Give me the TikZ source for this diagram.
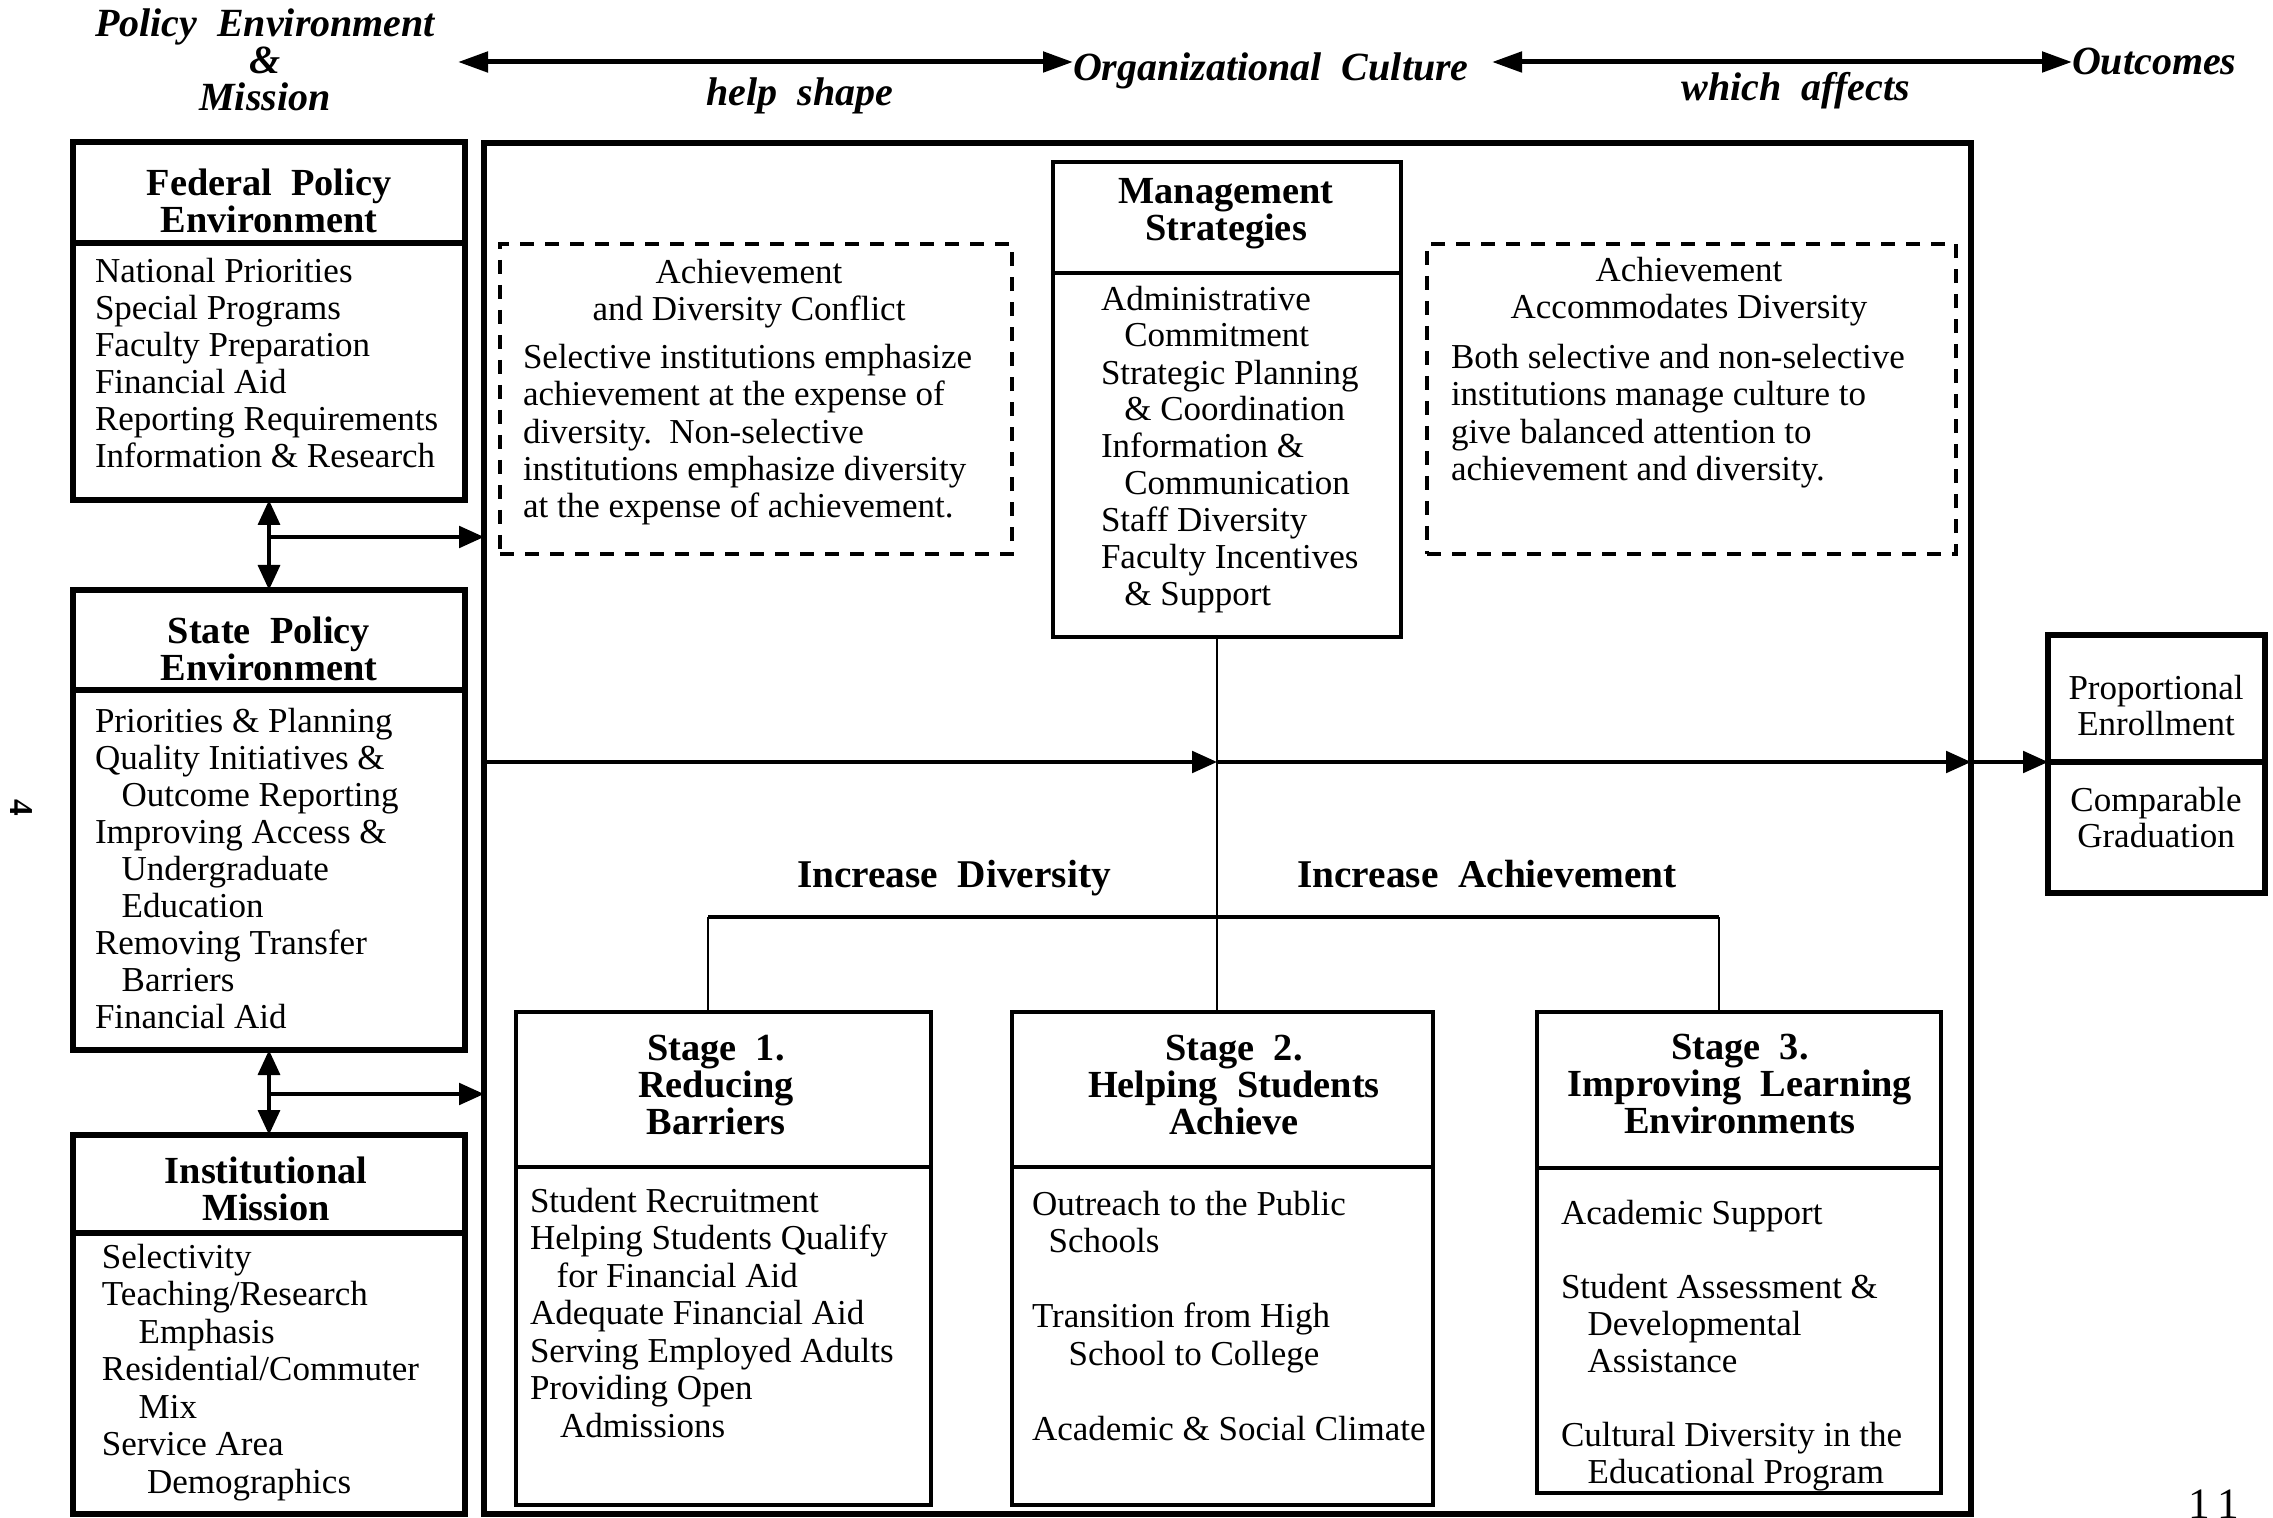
\documentclass[tikz,border=0pt]{standalone}
\usepackage{fontspec}
\setmainfont{Liberation Serif}
\usetikzlibrary{arrows.meta,fit}
\begin{document}
\begin{tikzpicture}[x=0.3pt,y=-0.3pt,
  every node/.style={inner sep=0pt, outer sep=0pt},
  heavyfr/.style={draw, line width=2pt},
  mainfr/.style={draw, line width=1.6pt},
  midfr/.style={draw, line width=1.1pt},
  dashfr/.style={draw, line width=1pt, dash pattern=on 4.2pt off 3.3pt},
  bodyt/.style={anchor=base west, align=left, font=\fontsize{10.5pt}{11.1pt}\selectfont},
  ctrt/.style={anchor=base, align=center, font=\fontsize{10.5pt}{11.1pt}\selectfont},
  hdt/.style={anchor=base, align=center, font=\fontsize{11.5pt}{11.1pt}\selectfont\bfseries},
  topt/.style={font=\fontsize{12pt}{11.2pt}\selectfont\bfseries\itshape},
  arr/.style={-{Triangle[length=7.5pt,width=6.5pt]}},
  dblarr/.style={{Triangle[length=7.5pt,width=6.5pt]}-{Triangle[length=7.5pt,width=6.5pt]}},
  toparr/.style={{Triangle[length=9pt,width=6pt]}-{Triangle[length=9pt,width=6pt]}, line width=1.5pt}
]
\useasboundingbox (0,0) rectangle (2273,1518);
\fill[white] (0,0) rectangle (2273,1518);

% (multi-line nodes are anchored at the baseline of their LAST line)

% ---- top labels ----
\node[topt, anchor=base, align=center] (pem) at (265,111) {Policy\ \ Environment\\\&\\Mission};
\node[topt, anchor=base] (hs) at (800,106) {help\ \ shape};
\node[topt, anchor=base west] (oc) at (1073,81) {Organizational\ \ Culture};
\node[topt, anchor=base] (wa) at (1796,101) {which\ \ affects};
\node[topt, anchor=base west] (oo) at (2072,75) {Outcomes};
\coordinate (ta) at (458,62);
\draw[toparr] (ta) -- (oc.west |- ta);
\draw[toparr] ([xshift=7pt]oc.east |- ta) -- (oo.west |- ta);

% ---- left column ----
\node[heavyfr, fit={(73,142)(465,243)}] (fedH) {};
\node[heavyfr, fit={(73,243)(465,500)}] (fedB) {};
\node[hdt] (fedHt) at (269,233) {Federal\ \ Policy\\Environment};
\node[bodyt] (fedBt) at (95,468) {National Priorities\\Special Programs\\Faculty Preparation\\Financial Aid\\Reporting Requirements\\Information \& Research};

\node[heavyfr, fit={(73,590)(465,690)}] (stH) {};
\node[heavyfr, fit={(73,690)(465,1050)}] (stB) {};
\node[hdt] (stHt) at (269,681) {State\ \ Policy\\Environment};
\node[bodyt] (stBt) at (95,1028) {Priorities \& Planning\\Quality Initiatives \&\\\hspace*{8pt}Outcome Reporting\\Improving Access \&\\\hspace*{8pt}Undergraduate\\\hspace*{8pt}Education\\Removing Transfer\\\hspace*{8pt}Barriers\\Financial Aid};

\node[heavyfr, fit={(73,1135)(465,1233)}] (inH) {};
\node[heavyfr, fit={(73,1233)(465,1514)}] (inB) {};
\node[hdt] (inHt) at (266,1220) {Institutional\\Mission};
\node[bodyt, font=\fontsize{10.5pt}{11.25pt}\selectfont] (inBt) at (102,1493) {Selectivity\\Teaching/Research\\\hspace*{11pt}Emphasis\\Residential/Commuter\\\hspace*{11pt}Mix\\Service Area\\\hspace*{13.5pt}Demographics};

% ---- main box ----
\node[mainfr, fit={(484,143)(1971,1514)}] (main) {};

\node[midfr, fit={(1053,162)(1401,273)}] (mgH) {};
\node[midfr, fit={(1053,273)(1401,637)}] (mgB) {};
\node[hdt] (mgHt) at (1226,241) {Management\\Strategies};
\node[bodyt] (mgBt) at (1101,606) {Administrative\\\hspace*{7pt}Commitment\\Strategic Planning\\\hspace*{7pt}\& Coordination\\Information \&\\\hspace*{7pt}Communication\\Staff Diversity\\Faculty Incentives\\\hspace*{7pt}\& Support};

\node[dashfr, fit={(500,244)(1012,554)}] (dL) {};
\node[ctrt] (dLt) at (749,321) {Achievement\\and Diversity Conflict};
\node[bodyt, font=\fontsize{10.5pt}{11.2pt}\selectfont] (dLb) at (523,518) {Selective institutions emphasize\\achievement at the expense of\\diversity.\ \ Non-selective\\institutions emphasize diversity\\at the expense of achievement.};

\node[dashfr, fit={(1427,244)(1956,554)}] (dR) {};
\node[ctrt] (dRt) at (1689,319) {Achievement\\Accommodates Diversity};
\node[bodyt, font=\fontsize{10.5pt}{11.25pt}\selectfont] (dRb) at (1451,481) {Both selective and non-selective\\institutions manage culture to\\give balanced attention to\\achievement and diversity.};

% ---- stages ----
\node[midfr, fit={(516,1012)(931,1167)}] (s1H) {};
\node[midfr, fit={(516,1167)(931,1505)}] (s1B) {};
\node[hdt] (s1Ht) at (716,1134) {Stage\ \ 1.\\Reducing\\Barriers};
\node[bodyt, font=\fontsize{10.5pt}{11.25pt}\selectfont] (s1Bt) at (530,1437) {Student Recruitment\\Helping Students Qualify\\\hspace*{8pt}for Financial Aid\\Adequate Financial Aid\\Serving Employed Adults\\Providing Open\\\hspace*{9pt}Admissions};

\node[midfr, fit={(1012,1012)(1433,1167)}] (s2H) {};
\node[midfr, fit={(1012,1167)(1433,1505)}] (s2B) {};
\node[hdt] (s2Ht) at (1234,1134) {Stage\ \ 2.\\Helping\ \ Students\\Achieve};
\node[bodyt, font=\fontsize{10.5pt}{11.25pt}\selectfont] (s2Bt) at (1032,1440) {Outreach to the Public\\\hspace*{5pt}Schools\\[11.25pt]Transition from High\\\hspace*{11pt}School to College\\[11.25pt]Academic \& Social Climate};

\node[midfr, fit={(1537,1012)(1941,1168)}] (s3H) {};
\node[midfr, fit={(1537,1168)(1941,1493)}] (s3B) {};
\node[hdt] (s3Ht) at (1740,1133) {Stage\ \ 3.\\Improving\ \ Learning\\Environments};
\node[bodyt, font=\fontsize{10.5pt}{11.1pt}\selectfont] (s3Bt) at (1561,1483) {Academic Support\\[11.1pt]Student Assessment \&\\\hspace*{8pt}Developmental\\\hspace*{8pt}Assistance\\[11.1pt]Cultural Diversity in the\\\hspace*{8pt}Educational Program};

% ---- outcomes ----
\node[draw, line width=1.6pt, fit={(2048,635)(2265,762)}] (oA) {};
\node[draw, line width=1.6pt, fit={(2048,762)(2265,893)}] (oB) {};
\node[ctrt, font=\fontsize{10.5pt}{10.9pt}\selectfont] (oAt) at (2156,736) {Proportional\\Enrollment};
\node[ctrt, font=\fontsize{10.5pt}{10.9pt}\selectfont] (oBt) at (2156,848) {Comparable\\Graduation};

% ---- labels on branches ----
\node[hdt, font=\fontsize{11.8pt}{11pt}\selectfont\bfseries] (idv) at (954,887) {Increase\ \ Diversity};
\node[hdt, font=\fontsize{11.8pt}{11pt}\selectfont\bfseries] (iac) at (1487,887) {Increase\ \ Achievement};

% ---- connectors, left column ----
\draw[dblarr, line width=1.3pt] (fedB.south) -- (stH.north);
\coordinate (j1) at (269,537);
\draw[arr, line width=1pt] (j1) -- (j1 -| main.west);
\draw[dblarr, line width=1.3pt] (stB.south) -- (inH.north);
\coordinate (j2) at (269,1094);
\draw[arr, line width=1pt] (j2) -- (j2 -| main.west);

% ---- connectors, centre ----
\coordinate (mid) at (1217,762);
\draw[line width=0.7pt] (mgB.south -| mid) -- (s2H.north -| mid);
\draw[arr, line width=1pt] (main.west |- mid) -- (mid);
\draw[arr, line width=1pt] (mid) -- (main.east |- mid);
\draw[arr, line width=1pt] (main.east |- mid) -- (oA.south west);

\coordinate (bl) at (708,917);
\coordinate (br) at (1719,917);
\draw[line width=1pt] (bl) -- (br);
\draw[line width=0.7pt] (bl) -- (s1H.north -| bl);
\draw[line width=0.7pt] (br) -- (s3H.north -| br);

% ---- page marks ----
\node[rotate=-90, font=\fontsize{10pt}{10pt}\selectfont\bfseries] (pg4) at (21,808) {4};
\node[anchor=north, font=\fontsize{13pt}{13pt}\selectfont] (pg11) at (2214,1490) {1\,1};
\end{tikzpicture}
\end{document}
